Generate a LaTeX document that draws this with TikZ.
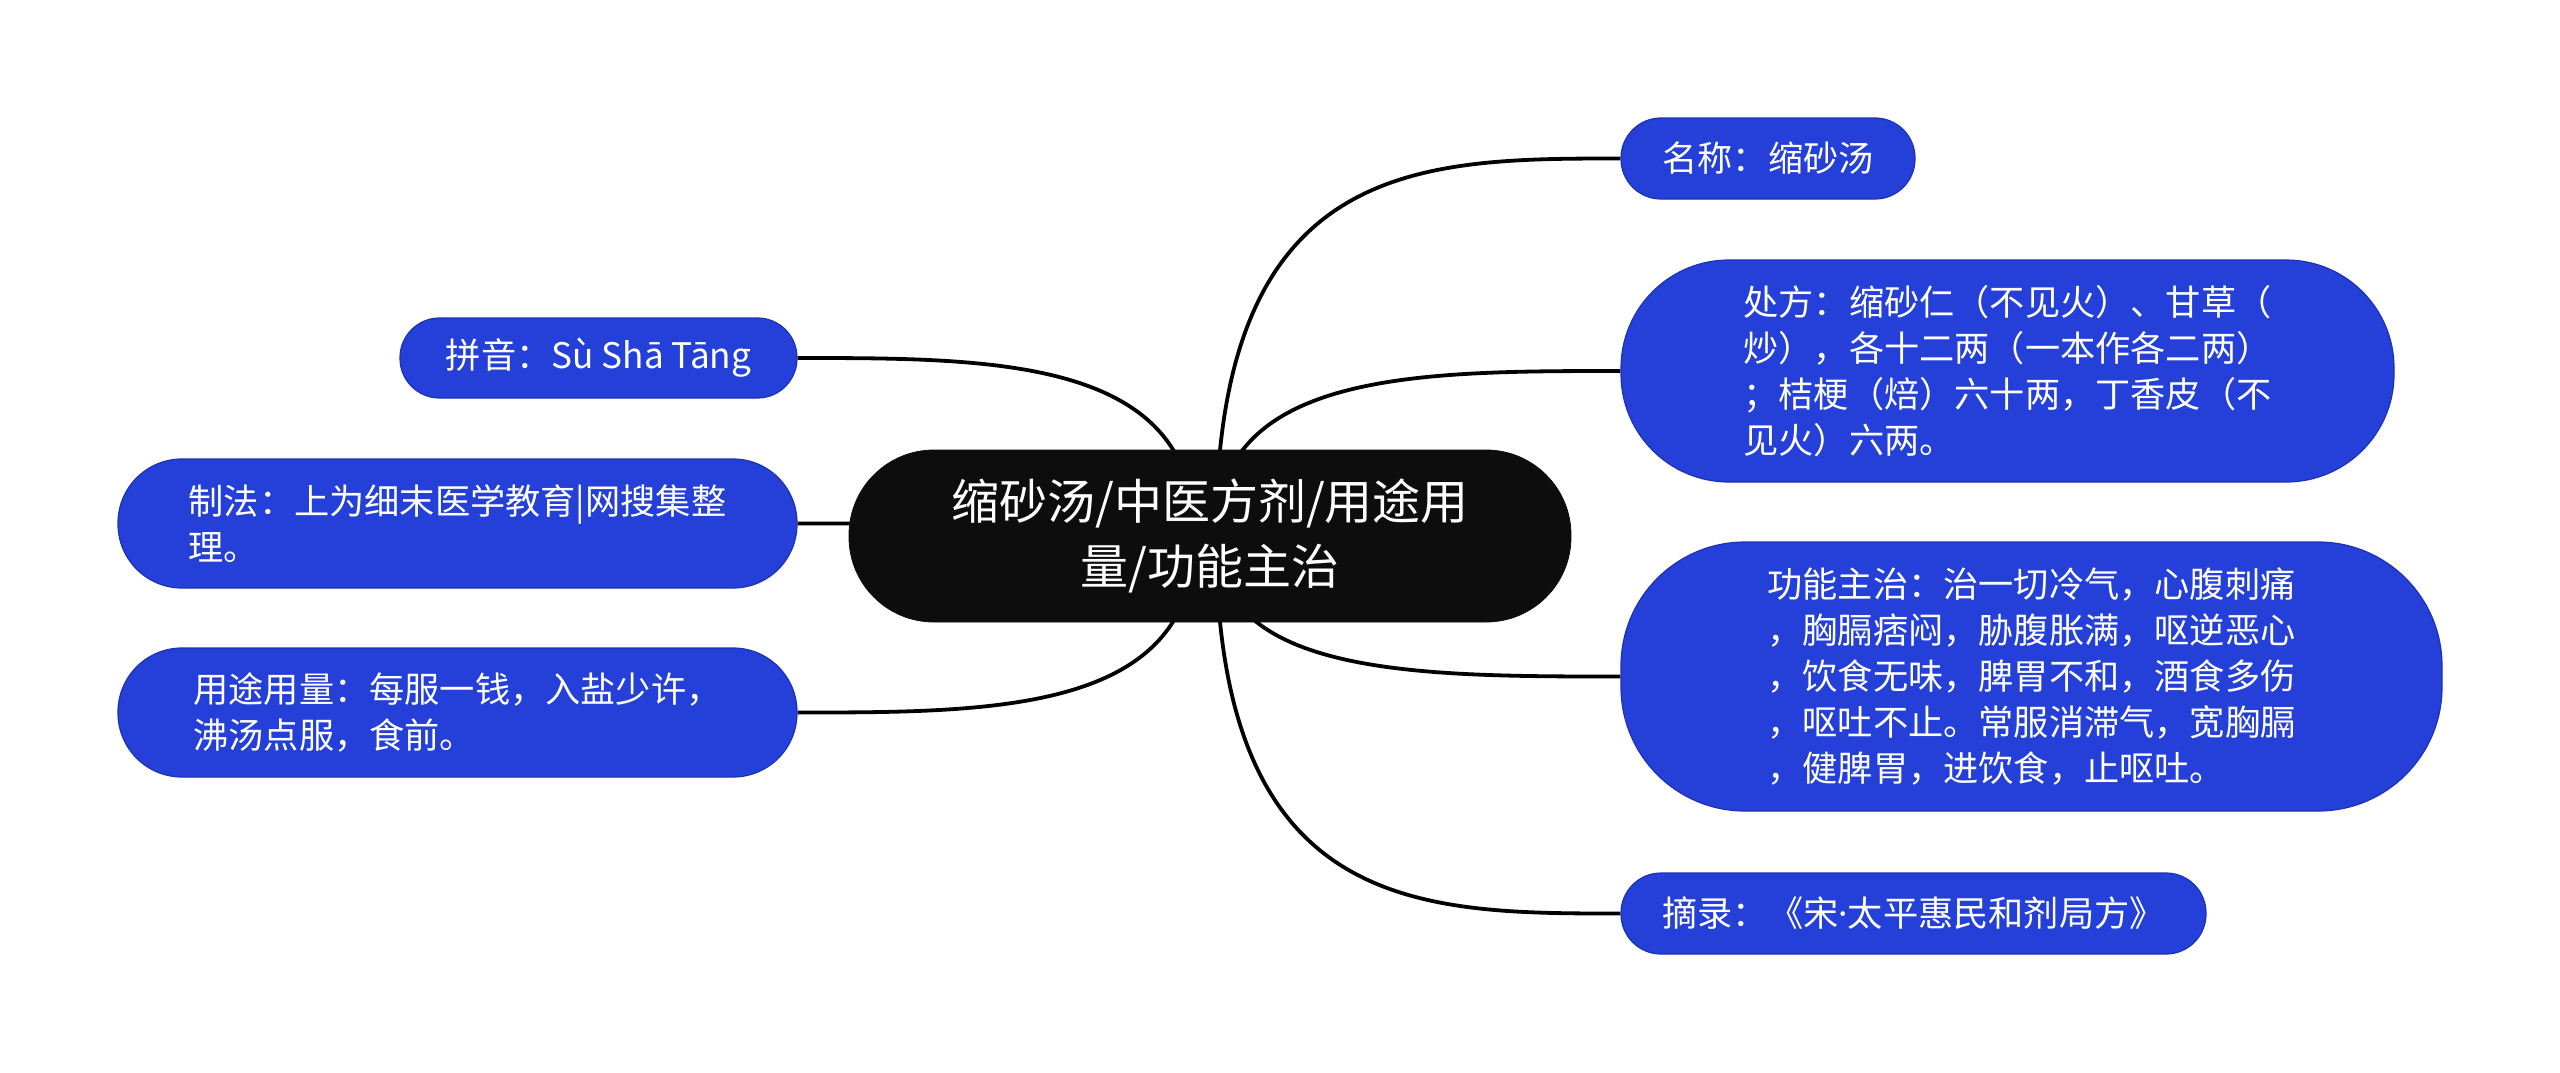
\documentclass[tikz,border=0pt]{standalone}
\usepackage{fontspec}
\setmainfont{Noto Sans CJK SC}
\newfontfamily\latinfont{Noto Sans}
\usetikzlibrary{calc,backgrounds}
\definecolor{nodeblue}{RGB}{37,64,216}
\definecolor{nodeedge}{RGB}{28,50,180}
\definecolor{rootblack}{RGB}{13,13,13}
\begin{document}
\begin{tikzpicture}[x=0.5pt,y=-0.5pt,
  leaf/.style={fill=nodeblue, draw=nodeedge, line width=0.6pt, text=white, inner sep=0pt, align=left, font=\fontsize{17.6pt}{23pt}\selectfont},
  rootnode/.style={fill=rootblack, draw=rootblack, text=white, inner sep=0pt, align=center, font=\fontsize{24pt}{32.5pt}\selectfont, minimum width=361pt, minimum height=86pt, rounded corners=42.5pt},
  conn/.style={line width=1.9pt, black}]
\useasboundingbox (0,0) rectangle (2560,1072);

\node[rootnode] (root) at (1210,536) {缩砂汤/中医方剂/用途用\\量/功能主治};

\node[leaf, minimum width=147pt, minimum height=40.5pt, rounded corners=20pt] (n1) at (1768,158.5) {名称：缩砂汤};
\node[leaf, minimum width=386.5pt, minimum height=111pt, rounded corners=54pt] (n2) at (2007.5,371) {处方：缩砂仁（不见火）、甘草（\\炒），各十二两（一本作各二两）\\；桔梗（焙）六十两，丁香皮（不\\见火）六两。};
\node[leaf, minimum width=410.5pt, minimum height=134.5pt, rounded corners=62pt] (n3) at (2031.5,676.5) {功能主治：治一切冷气，心腹刺痛\\，胸膈痞闷，胁腹胀满，呕逆恶心\\，饮食无味，脾胃不和，酒食多伤\\，呕吐不止。常服消滞气，宽胸膈\\，健脾胃，进饮食，止呕吐。};
\node[leaf, minimum width=292.5pt, minimum height=40.5pt, rounded corners=20pt] (n4) at (1913.5,913.5) {摘录：《宋{\latinfont ·}太平惠民和剂局方》};

\node[leaf, minimum width=198.5pt, minimum height=40pt, rounded corners=19.8pt] (l1) at (598.5,358) {拼音：Sù Shā Tāng};
\node[leaf, minimum width=339.5pt, minimum height=64.5pt, rounded corners=32pt] (l2) at (457.5,523.5) {制法：上为细末医学教育|网搜集整\\理。};
\node[leaf, minimum width=339.5pt, minimum height=64.5pt, rounded corners=32pt] (l3) at (457.5,712.5) {用途用量：每服一钱，入盐少许，\\沸汤点服，食前。};

\coordinate (SR) at ($(root.center)+(6,0)$);
\coordinate (SL) at ($(root.center)+(-15,0)$);

\begin{pgfonlayer}{background}
\fill[white] (0,0) rectangle (2560,1072);
\draw[conn] (SR) .. controls (SR |- n1.west) and ($(SR |- n1.west)!0.5!(n1.west)$) .. (n1.west);
\draw[conn] (SR) .. controls (SR |- n2.west) and ($(SR |- n2.west)!0.5!(n2.west)$) .. (n2.west);
\draw[conn] (SR) .. controls (SR |- n3.west) and ($(SR |- n3.west)!0.5!(n3.west)$) .. (n3.west);
\draw[conn] (SR) .. controls (SR |- n4.west) and ($(SR |- n4.west)!0.5!(n4.west)$) .. (n4.west);
\draw[conn] (SL) .. controls (SL |- l1.east) and ($(SL |- l1.east)!0.5!(l1.east)$) .. (l1.east);
\draw[conn] (SL) .. controls (SL |- l2.east) and ($(SL |- l2.east)!0.5!(l2.east)$) .. (l2.east);
\draw[conn] (SL) .. controls (SL |- l3.east) and ($(SL |- l3.east)!0.5!(l3.east)$) .. (l3.east);
\end{pgfonlayer}
\end{tikzpicture}
\end{document}
